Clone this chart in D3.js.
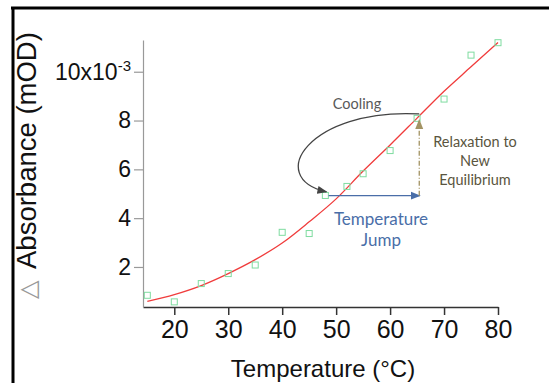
<!DOCTYPE html>
<html>
<head>
<meta charset="utf-8">
<script src="https://cdn.jsdelivr.net/npm/d3@7"></script>
<style>
  body { margin: 0; background: #fff; }
  svg { display: block; }
</style>
</head>
<body>
<svg id="chart" width="549" height="383"></svg>
<script>
// Measured points (temperature in °C, absorbance in units of 1e-3)
const tempC  = [15, 20, 25, 30, 35, 40, 45, 48, 52, 55, 60, 65, 70, 75, 80];
const absorb = [0.84, 0.57, 1.32, 1.73, 2.08, 3.42, 3.37, 4.93, 5.30, 5.82, 6.77, 8.09, 8.88, 10.68, 11.19];

// Fitted curve
const fitT = [15, 20, 25, 30, 35, 40, 45, 50, 55, 60, 65, 70, 75, 80];
const fitA = [0.59, 0.87, 1.24, 1.73, 2.30, 2.98, 3.85, 4.79, 5.93, 7.00, 8.10, 9.20, 10.20, 11.20];

const xTicks = [20, 30, 40, 50, 60, 70, 80];
const yTicks = [2, 4, 6, 8, 10];

// Annotation anchors in data units
const jumpFrom = [48.6, 4.92];
const jumpTo = [65.5, 4.92];
const relaxTop = [65.4, 8.02];
const coolFrom = [65.4, 8.27];
const coolTo = [48.2, 5.08];

const svg = d3.select('#chart');

// frame (top and left edges only)
svg.append('line').attr('x1', 11).attr('x2', 549).attr('y1', 8).attr('y2', 8)
   .attr('stroke', '#000').attr('stroke-width', 3);
svg.append('line').attr('x1', 13).attr('x2', 13).attr('y1', 7).attr('y2', 383)
   .attr('stroke', '#000').attr('stroke-width', 3);

const x = d3.scaleLinear().domain([14.2, 80]).range([143, 498]);
const y = d3.scaleLinear().domain([0.36, 11.3]).range([307, 40]);

// x axis
const gx = svg.append('g')
  .attr('transform', 'translate(0,307)')
  .call(d3.axisBottom(x).tickValues(xTicks).tickSize(8).tickPadding(5).tickSizeOuter(0));
gx.select('.domain').attr('stroke', '#333').attr('stroke-width', 1.5);
gx.selectAll('.tick line').attr('stroke', '#333').attr('stroke-width', 1.5);
gx.selectAll('.tick text')
  .attr('font-family', 'Liberation Sans, Arial, sans-serif')
  .attr('font-size', 25).attr('fill', '#111');

// y axis
const gy = svg.append('g')
  .attr('transform', 'translate(143,0)')
  .call(d3.axisLeft(y).tickValues(yTicks).tickSize(9).tickPadding(3).tickSizeOuter(0));
gy.select('.domain').attr('stroke', '#999').attr('stroke-width', 1.2);
gy.selectAll('.tick line').attr('stroke', '#999').attr('stroke-width', 1.2);
gy.selectAll('.tick text')
  .attr('font-family', 'Liberation Sans, Arial, sans-serif')
  .attr('font-size', 23).attr('fill', '#111')
  .each(function(d) {
    if (d === 10) {
      const t = d3.select(this).text('');
      t.append('tspan').text('10x10');
      t.append('tspan').attr('font-size', 15).attr('dy', -9).text('-3');
    }
  });

// axis titles
svg.append('text')
  .attr('x', 323).attr('y', 377)
  .attr('text-anchor', 'middle')
  .attr('font-family', 'Liberation Sans, Arial, sans-serif')
  .attr('font-size', 24).attr('fill', '#111')
  .text('Temperature (°C)');

const yt = svg.append('text')
  .attr('transform', 'translate(36,299) rotate(-90)')
  .attr('font-family', 'Liberation Sans, Arial, sans-serif')
  .attr('font-size', 27.5).attr('fill', '#111');
yt.append('tspan').attr('fill', '#999').attr('font-size', 24).text('△');
yt.append('tspan').attr('dx', 12).text('Absorbance (mOD)');

// arrow markers
const defs = svg.append('defs');
function marker(id, color) {
  defs.append('marker')
    .attr('id', id).attr('viewBox', '0 0 10 10')
    .attr('refX', 9).attr('refY', 5)
    .attr('markerWidth', 10).attr('markerHeight', 10)
    .attr('markerUnits', 'userSpaceOnUse')
    .attr('orient', 'auto')
    .append('path').attr('d', 'M0,1 L10,5 L0,9 Z').attr('fill', color);
}
marker('arrBlue', '#4a6ea8');
marker('arrGray', '#444');
marker('arrKhaki', '#a39363');

// fitted line
const line = d3.line()
  .x((d, i) => x(fitT[i]))
  .y(d => y(d))
  .curve(d3.curveMonotoneX);
svg.append('path')
  .datum(fitA)
  .attr('d', line)
  .attr('fill', 'none')
  .attr('stroke', '#f03c3c')
  .attr('stroke-width', 1.3);

// data squares
svg.selectAll('.pt')
  .data(tempC)
  .enter()
  .append('rect')
  .attr('class', 'pt')
  .attr('x', d => x(d) - 3)
  .attr('y', (d, i) => y(absorb[i]) - 3)
  .attr('width', 6).attr('height', 6)
  .attr('fill', 'none')
  .attr('stroke', '#7fdca0')
  .attr('stroke-width', 1);

// temperature jump arrow
svg.append('line')
  .attr('x1', x(jumpFrom[0])).attr('y1', y(jumpFrom[1]))
  .attr('x2', x(jumpTo[0])).attr('y2', y(jumpTo[1]))
  .attr('stroke', '#4a6ea8').attr('stroke-width', 1.3)
  .attr('marker-end', 'url(#arrBlue)');

// relaxation arrow
svg.append('line')
  .attr('x1', x(jumpTo[0]) - 0.5).attr('y1', y(jumpTo[1]))
  .attr('x2', x(relaxTop[0])).attr('y2', y(relaxTop[1]))
  .attr('stroke', '#a39363').attr('stroke-width', 1.3)
  .attr('stroke-dasharray', '5,2,1,2')
  .attr('marker-end', 'url(#arrKhaki)');

// cooling arrow
const c0x = x(coolFrom[0]), c0y = y(coolFrom[1]);
const c1x = x(coolTo[0]), c1y = y(coolTo[1]);
svg.append('path')
  .attr('d', `M${c0x},${c0y} C${c0x - 110},${c0y - 6} ${c1x - 62},${c1y - 14} ${c1x},${c1y}`)
  .attr('fill', 'none')
  .attr('stroke', '#444').attr('stroke-width', 1.3)
  .attr('marker-end', 'url(#arrGray)');

// annotation texts
const annFont = 'Lato, "Open Sans", sans-serif';
svg.append('text')
  .attr('x', 357).attr('y', 109)
  .attr('text-anchor', 'middle')
  .attr('font-family', annFont).attr('font-size', 14.5)
  .attr('fill', '#595959')
  .text('Cooling');

const tj = svg.append('text')
  .attr('text-anchor', 'middle')
  .attr('font-family', annFont).attr('font-size', 17)
  .attr('fill', '#4a6ea8');
tj.append('tspan').attr('x', 381).attr('y', 225).text('Temperature');
tj.append('tspan').attr('x', 381).attr('y', 246).text('Jump');

const rx = svg.append('text')
  .attr('text-anchor', 'middle')
  .attr('font-family', annFont).attr('font-size', 14.5)
  .attr('fill', '#5a5540');
rx.append('tspan').attr('x', 475).attr('y', 147).text('Relaxation to');
rx.append('tspan').attr('x', 475).attr('y', 166).text('New');
rx.append('tspan').attr('x', 475).attr('y', 185).text('Equilibrium');
</script>
</body>
</html>
